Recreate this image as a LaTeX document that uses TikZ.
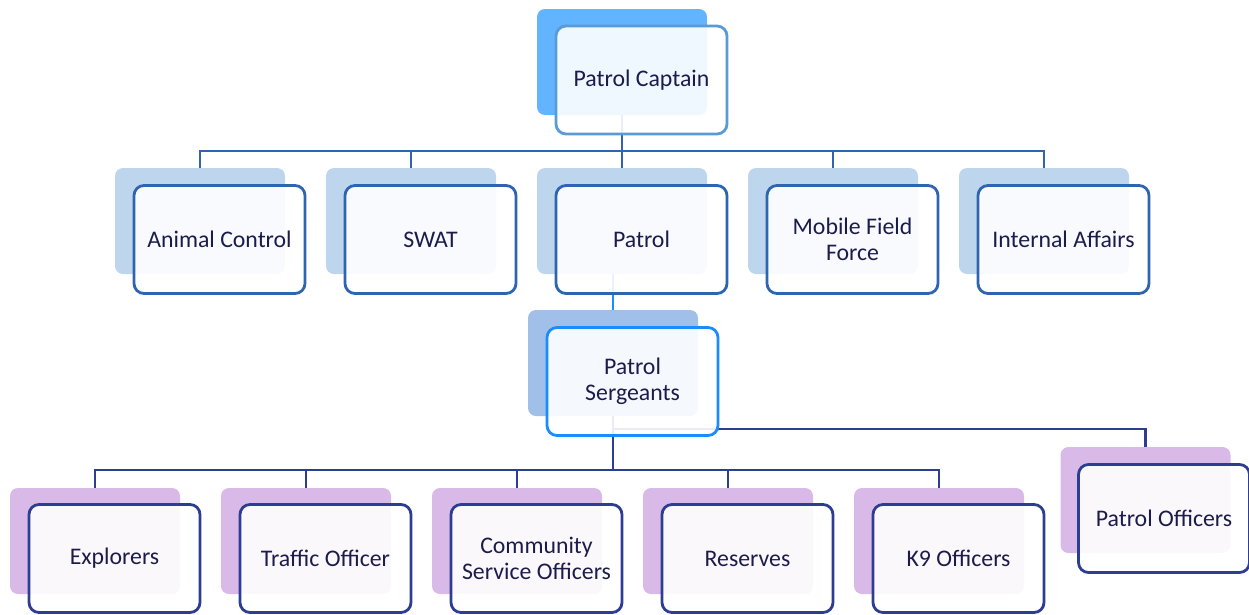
\documentclass[tikz,border=0pt]{standalone}
\usepackage{fontspec}
\setmainfont{Carlito}
\definecolor{capback}{HTML}{63B4FF}
\definecolor{capline}{HTML}{5B9BD5}
\definecolor{oneback}{HTML}{BDD6EE}
\definecolor{oneline}{HTML}{2F64B0}
\definecolor{sgback}{HTML}{A0C0EA}
\definecolor{sgline}{HTML}{1A8CFF}
\definecolor{twoback}{HTML}{D9B9E7}
\definecolor{twoline}{HTML}{2C3D92}
\definecolor{txt}{HTML}{1C1C4C}
\tikzset{
  backbox/.style={rounded corners=8pt, minimum width=170pt, minimum height=106pt, inner sep=0pt, fill=#1},
  frontbox/.style={rounded corners=10pt, minimum width=171pt, minimum height=108pt, inner sep=0pt,
    draw=#1, line width=2.8pt, fill=white, fill opacity=0.9, text opacity=1, text=txt,
    align=center, font=\fontsize{23.8}{26.5}\selectfont},
  conn/.style={draw=#1, line width=2.8pt},
}
\begin{document}
\begin{tikzpicture}[x=1pt,y=-1pt]
\useasboundingbox (0,0) rectangle (1249,614);
% back boxes
\node[backbox=capback] (capB) at (622,62) {};
\foreach \n/\x in {acB/200, swB/411, paB/622, mfB/833, iaB/1044}
  \node[backbox=oneback] (\n) at (\x,221) {};
\node[backbox=sgback] (sgB) at (613,363) {};
\foreach \n/\x in {exB/95, toB/306, csB/517, reB/728, k9B/939}
  \node[backbox=twoback] (\n) at (\x,541) {};
\node[backbox=twoback] (poB) at (1145.5,500) {};
% connectors
\coordinate (bus1) at (622,151);
\draw[conn=oneline] (capB.south) -- (bus1);
\foreach \n in {acB, swB, paB, mfB, iaB}
  \draw[conn=oneline] (bus1) -| (\n.north);
\draw[conn=sgline] (sgB.north |- paB.south) -- (sgB.north);
\coordinate (bus2) at (613,470);
\coordinate (bus3) at (613,429);
\draw[conn=twoline] (sgB.south) -- (bus2);
\foreach \n in {exB, toB, csB, reB, k9B}
  \draw[conn=twoline] (bus2) -| (\n.north);
\draw[conn=twoline] (bus3) -| (poB.north);
% front boxes
\node[frontbox=capline] (cap) at (641.5,80) {Patrol Captain};
\node[frontbox=oneline] (ac) at (219.5,239.5) {Animal Control};
\node[frontbox=oneline] (sw) at (430.5,239.5) {SWAT};
\node[frontbox=oneline] (pa) at (641.5,239.5) {Patrol};
\node[frontbox=oneline] (mf) at (852.5,239.5) {Mobile Field\\Force};
\node[frontbox=oneline] (ia) at (1063.5,239.5) {Internal Affairs};
\node[frontbox=sgline] (sg) at (632.5,381.5) {Patrol\\Sergeants};
\node[frontbox=twoline] (ex) at (114.5,558.5) {Explorers};
\node[frontbox=twoline] (to) at (325.5,558.5) {Traffic Officer};
\node[frontbox=twoline] (cs) at (536.5,558.5) {Community\\Service Officers};
\node[frontbox=twoline] (re) at (747.5,558.5) {Reserves};
\node[frontbox=twoline] (k9) at (958.5,558.5) {K9 Officers};
\node[frontbox=twoline] (po) at (1164,518.5) {Patrol Officers};
\end{tikzpicture}
\end{document}
